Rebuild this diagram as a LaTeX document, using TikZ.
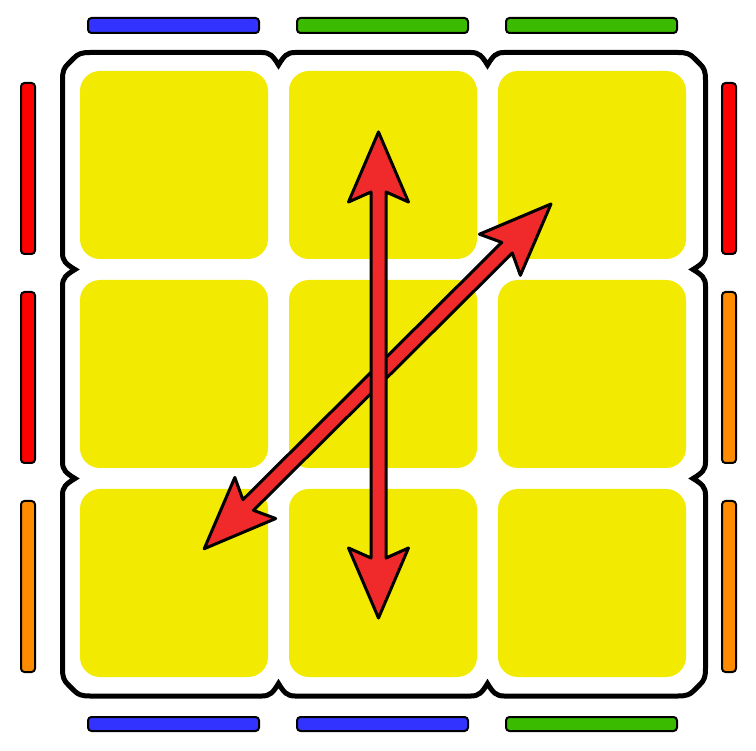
\documentclass[tikz,border=0pt]{standalone}
\definecolor{stk}{HTML}{F2EA00}
\definecolor{cblue}{HTML}{3333FF}
\definecolor{cgreen}{HTML}{3BBB00}
\definecolor{cred}{HTML}{FF0000}
\definecolor{corange}{HTML}{FF8C00}
\definecolor{arrred}{HTML}{F02A2A}
\tikzset{
  sticker/.style={fill=stk, rounded corners=20pt},
  bar/.style={draw=black, line width=2pt, rounded corners=3.5pt},
  outline/.style={draw=black, line width=5pt},
  arrowshape/.style={draw=black, fill=arrred, line width=3pt, line join=round},
}
\newcommand\dblarrowshape[3]{% #1 length, #2 head length, #3 head half width
  \filldraw[arrowshape] (0,0) -- (#3,#2) -- (7.5,#2-10) -- (7.5,#1-#2+10) -- (#3,#1-#2) -- (0,#1)
    -- (-#3,#1-#2) -- (-7.5,#1-#2+10) -- (-7.5,#2-10) -- (-#3,#2) -- cycle;}
\begin{document}
\begin{tikzpicture}[x=1pt,y=-1pt]
\useasboundingbox (0,0) rectangle (756,751);
\fill[white] (0,0) rectangle (756,751);
% stickers
\foreach \i in {0,1,2}{
  \foreach \j in {0,1,2}{
    \fill[sticker] ({80+209*\i},{71+209*\j}) rectangle ++(188,188);
  }
}
% outline
\draw[outline]
  (62.5,80) .. controls (62.5,71) and (64,68) .. (68,64) -- (74,58) .. controls (78,54) and (81,52.5) .. (90,52.5)
  -- (262,52.5) .. controls (270,52.5) and (273,56) .. (278.5,65) .. controls (284,56) and (287,52.5) .. (295,52.5)
  -- (471,52.5) .. controls (479,52.5) and (482,56) .. (487.5,65) .. controls (493,56) and (496,52.5) .. (504,52.5)
  -- (678,52.5) .. controls (687,52.5) and (690,54) .. (694,58) -- (700,64) .. controls (704,68) and (705.5,71) .. (705.5,80)
  -- (705.5,253) .. controls (705.5,261) and (702,264) .. (693,269.5) .. controls (702,275) and (705.5,278) .. (705.5,286)
  -- (705.5,462) .. controls (705.5,470) and (702,473) .. (693,478.5) .. controls (702,484) and (705.5,487) .. (705.5,495)
  -- (705.5,668.5) .. controls (705.5,677.5) and (704,680.5) .. (700,684.5) -- (694,690.5) .. controls (690,694.5) and (687,696) .. (678,696)
  -- (504,696) .. controls (496,696) and (493,692.5) .. (487.5,683.5) .. controls (482,692.5) and (479,696) .. (471,696)
  -- (295,696) .. controls (287,696) and (284,692.5) .. (278.5,683.5) .. controls (273,692.5) and (270,696) .. (262,696)
  -- (90,696) .. controls (81,696) and (78,694.5) .. (74,690.5) -- (68,684.5) .. controls (64,680.5) and (62.5,677.5) .. (62.5,668.5)
  -- (62.5,495) .. controls (62.5,487) and (66,484) .. (75,478.5) .. controls (66,473) and (62.5,470) .. (62.5,462)
  -- (62.5,286) .. controls (62.5,278) and (66,275) .. (75,269.5) .. controls (66,264) and (62.5,261) .. (62.5,253)
  -- cycle;
% edge bars top
\foreach \i/\c in {0/cblue,1/cgreen,2/cgreen}
  \filldraw[bar, fill=\c] ({88+209*\i},18) rectangle ++(171,15);
% bottom
\foreach \i/\c in {0/cblue,1/cblue,2/cgreen}
  \filldraw[bar, fill=\c] ({88+209*\i},717) rectangle ++(171,14);
% left
\foreach \j/\c in {0/cred,1/cred,2/corange}
  \filldraw[bar, fill=\c] (21,{83+209*\j}) rectangle ++(14,171);
% right
\foreach \j/\c in {0/cred,1/corange,2/corange}
  \filldraw[bar, fill=\c] (722,{83+209*\j}) rectangle ++(14,171);
% arrows
\coordinate (dtop) at (551,204);
\coordinate (vtop) at (378.5,132);
\begin{scope}[shift={(dtop)}, rotate=-45.17]
  \dblarrowshape{489}{72}{29}
\end{scope}
\begin{scope}[shift={(vtop)}]
  \dblarrowshape{486}{70}{30}
\end{scope}
\end{tikzpicture}
\end{document}
